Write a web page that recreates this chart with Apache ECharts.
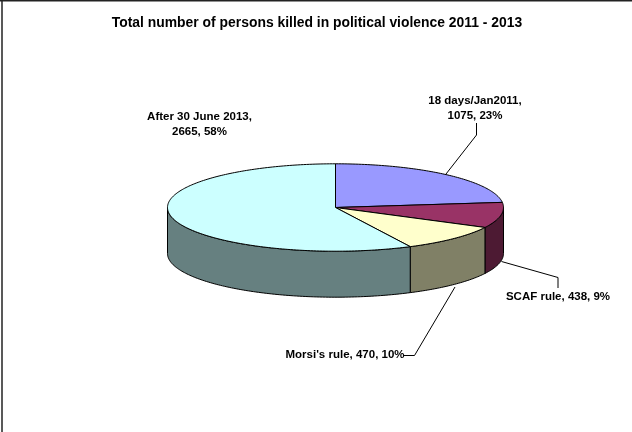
<!DOCTYPE html>
<html><head><meta charset="utf-8">
<style>html,body{margin:0;padding:0;background:#fff}#c{width:632px;height:432px}</style>
<script src="https://cdn.jsdelivr.net/npm/echarts@6/dist/echarts.min.js"></script>
</head><body><div id="c"></div>
<script>
const categories = ['18 days/Jan2011', 'SCAF rule', "Morsi's rule", 'After 30 June 2013'];
const values = [1075, 438, 470, 2665];
const percents = ['23%', '9%', '10%', '58%'];
const topColors = ['#9999FF', '#993366', '#FFFFCC', '#CCFFFF'];
const sideColors = ['#4D4D80', '#4D1A33', '#808066', '#668080'];
const titleText = 'Total number of persons killed in political violence 2011 - 2013';

const total = values.reduce((a, b) => a + b, 0);
const CX = 335.5, CY = 207.5, RX = 168, RY = 43.7, DEPTH = 46;
const font = 'bold 11.5px "Liberation Sans", Arial, sans-serif';

function pt(deg, dy) {
  const r = deg * Math.PI / 180;
  return [CX + RX * Math.sin(r), CY - RY * Math.cos(r) + (dy || 0)];
}
function arc(a0, a1, dy) {
  const n = Math.max(2, Math.ceil(Math.abs(a1 - a0) / 1));
  const out = [];
  for (let i = 0; i <= n; i++) out.push(pt(a0 + (a1 - a0) * i / n, dy));
  return out;
}
function labelText(i) {
  const head = categories[i] + ', ' + values[i] + ', ' + percents[i];
  if (i === 0 || i === 3) return categories[i] + ',\n' + values[i] + ', ' + percents[i];
  return head;
}
const labelSpec = [
  { x: 475, y: 108.5, line: [[476.5, 123], [476.5, 135], [446, 174]] },
  { x: 558, y: 297, line: [[501.5, 261.5], [558, 277.5], [558, 288]] },
  { x: 345, y: 355, line: [[404, 355.5], [414.5, 355.5], [455, 287]] },
  { x: 199.5, y: 124.5, line: null }
];

function renderItem(params, api) {
  const i = params.dataIndex;
  const v = api.value(0);
  let before = 0;
  for (let k = 0; k < i; k++) before += values[k];
  const a0 = before / total * 360, a1 = (before + v) / total * 360;
  const children = [];
  const stroke = { stroke: '#000', lineWidth: 1 };
  const s0 = Math.max(a0, 90), s1 = Math.min(a1, 270);
  if (s1 > s0) {
    const top = arc(s0, s1, 0), bot = arc(s1, s0, DEPTH);
    children.push({ type: 'polygon', z2: 1, shape: { points: top.concat(bot) },
      style: Object.assign({ fill: sideColors[i] }, stroke) });
  }
  const sec = [[CX, CY]].concat(arc(a0, a1, 0));
  children.push({ type: 'polygon', z2: 2, shape: { points: sec },
    style: Object.assign({ fill: topColors[i] }, stroke) });
  const L = labelSpec[i];
  if (L.line) children.push({ type: 'polyline', z2: 3, shape: { points: L.line },
    style: { stroke: '#000', lineWidth: 1, fill: null } });
  children.push({ type: 'text', z2: 4, x: L.x, y: L.y, style: {
    text: labelText(i), font, fill: '#000', align: 'center', verticalAlign: 'middle', lineHeight: 15 } });
  return { type: 'group', children };
}

const chart = echarts.init(document.getElementById('c'), null, { renderer: 'canvas' });
chart.setOption({
  animation: false,
  backgroundColor: '#fff',
  title: { text: titleText, left: 312, top: 11, textAlign: 'center',
    textStyle: { fontFamily: '"Liberation Sans", Arial, sans-serif', fontWeight: 'bold', fontSize: 13.9, color: '#000' } },
  graphic: [
    { type: 'line', silent: true, shape: { x1: 0, y1: 0.5, x2: 632, y2: 0.5 }, style: { stroke: '#222', lineWidth: 2 } },
    { type: 'line', silent: true, shape: { x1: 2, y1: 0, x2: 2, y2: 432 }, style: { stroke: '#222', lineWidth: 1.5 } }
  ],
  series: [{ type: 'custom', coordinateSystem: 'none', renderItem, clip: false,
    data: values.map((v, i) => ({ name: categories[i], value: [v] })) }]
});
</script></body></html>
